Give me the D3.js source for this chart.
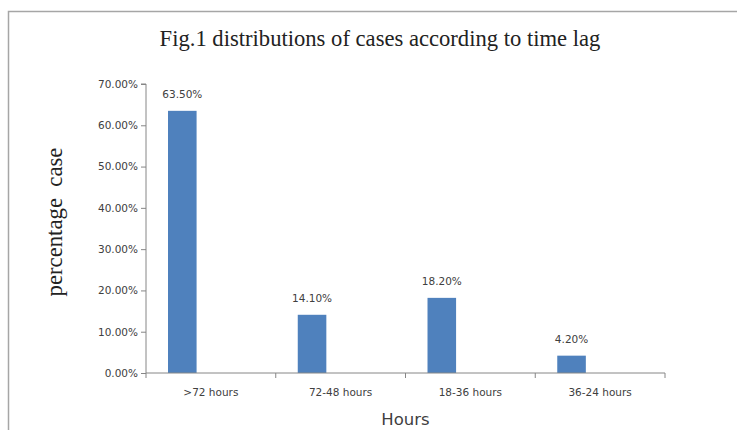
<!DOCTYPE html>
<html><head><meta charset="utf-8">
<script src="https://cdn.jsdelivr.net/npm/d3@7"></script>
<style>
html,body{margin:0;padding:0;background:#fff;}
svg{display:block;}
</style>
</head><body>
<svg id="chart" width="737" height="430"></svg>
<script>
const categories = [">72 hours", "72-48 hours", "18-36 hours", "36-24 hours"];
const values = [63.5, 14.1, 18.2, 4.2];
const yTicks = [0, 10, 20, 30, 40, 50, 60, 70];
const seriesSlots = ["percentage", "empty1", "empty2"];
const titleText = "Fig.1 distributions of cases according to time lag";
const yTitle = "percentage\u00a0\u00a0case";
const xTitle = "Hours";

const svg = d3.select("#chart");
const plot = {left: 146, right: 665, top: 84, bottom: 373};

// frame
svg.append("path")
  .attr("d", `M8.5,430 L8.5,11.5 L737,11.5`)
  .attr("fill", "none").attr("stroke", "#a6a6a6").attr("stroke-width", 1.5);

const x = d3.scaleBand().domain(categories).range([plot.left, plot.right]).paddingInner(0).paddingOuter(0);
const xs = d3.scaleBand().domain(seriesSlots).range([0, x.bandwidth()]).paddingInner(0).paddingOuter(0.77);
const y = d3.scaleLinear().domain([0, 70]).range([plot.bottom, plot.top]);

// bars
svg.append("g").selectAll("rect").data(values).join("rect")
  .attr("x", (d, i) => x(categories[i]) + xs("percentage"))
  .attr("width", xs.bandwidth())
  .attr("y", d => y(d))
  .attr("height", d => y(0) - y(d))
  .attr("fill", "#4f81bd");

// value labels
svg.append("g").selectAll("text").data(values).join("text")
  .attr("x", (d, i) => x(categories[i]) + xs("percentage") + xs.bandwidth() / 2)
  .attr("y", d => y(d) - 13)
  .attr("text-anchor", "middle")
  .attr("font-family", "DejaVu Sans")
  .attr("font-size", 10.5)
  .attr("fill", "#404040")
  .text(d => d.toFixed(2) + "%");

// y axis
const yAxis = d3.axisLeft(y).tickValues(yTicks).tickSize(5).tickPadding(3)
  .tickFormat(d => d.toFixed(2) + "%");
const gy = svg.append("g").attr("transform", `translate(${plot.left},0)`).call(yAxis);
gy.select(".domain").attr("stroke", "#868686").attr("d", `M-5,${plot.top}H0V${plot.bottom}`);
gy.selectAll(".tick line").attr("stroke", "#868686");
gy.selectAll(".tick text").attr("font-family", "DejaVu Sans").attr("font-size", 10.5).attr("fill", "#404040");

// x axis
const xAxis = d3.axisBottom(x).tickSize(0).tickPadding(16);
const gx = svg.append("g").attr("transform", `translate(0,${plot.bottom})`).call(xAxis);
gx.select(".domain").attr("stroke", "#868686").attr("d", `M${plot.left},0H${plot.right}`);
gx.selectAll(".tick text").attr("font-family", "DejaVu Sans").attr("font-size", 10.5).attr("fill", "#404040");
// category boundary ticks
const bounds = categories.map(c => x(c)).concat([plot.right]);
gx.append("g").selectAll("line").data(bounds).join("line")
  .attr("x1", d => d).attr("x2", d => d).attr("y1", 0).attr("y2", 5)
  .attr("stroke", "#868686");

// title
const t = svg.append("text")
  .attr("x", 380).attr("y", 46)
  .attr("text-anchor", "middle")
  .attr("font-family", "Liberation Serif")
  .attr("font-size", 20)
  .attr("fill", "#222")
  .text(titleText);
const tw = t.node().getComputedTextLength();
t.attr("font-size", 20 * 441 / tw);

// y title
const yt = svg.append("text")
  .attr("transform", "translate(62,222) rotate(-90)")
  .attr("text-anchor", "middle")
  .attr("font-family", "Liberation Serif")
  .attr("font-size", 20)
  .attr("fill", "#222")
  .text(yTitle);
const yw = yt.node().getComputedTextLength();
yt.attr("font-size", 20 * 149 / yw);

// x title
svg.append("text")
  .attr("x", (plot.left + plot.right) / 2).attr("y", 425)
  .attr("text-anchor", "middle")
  .attr("font-family", "DejaVu Sans")
  .attr("font-size", 16.5)
  .attr("fill", "#404040")
  .text(xTitle);
</script>
</body></html>
